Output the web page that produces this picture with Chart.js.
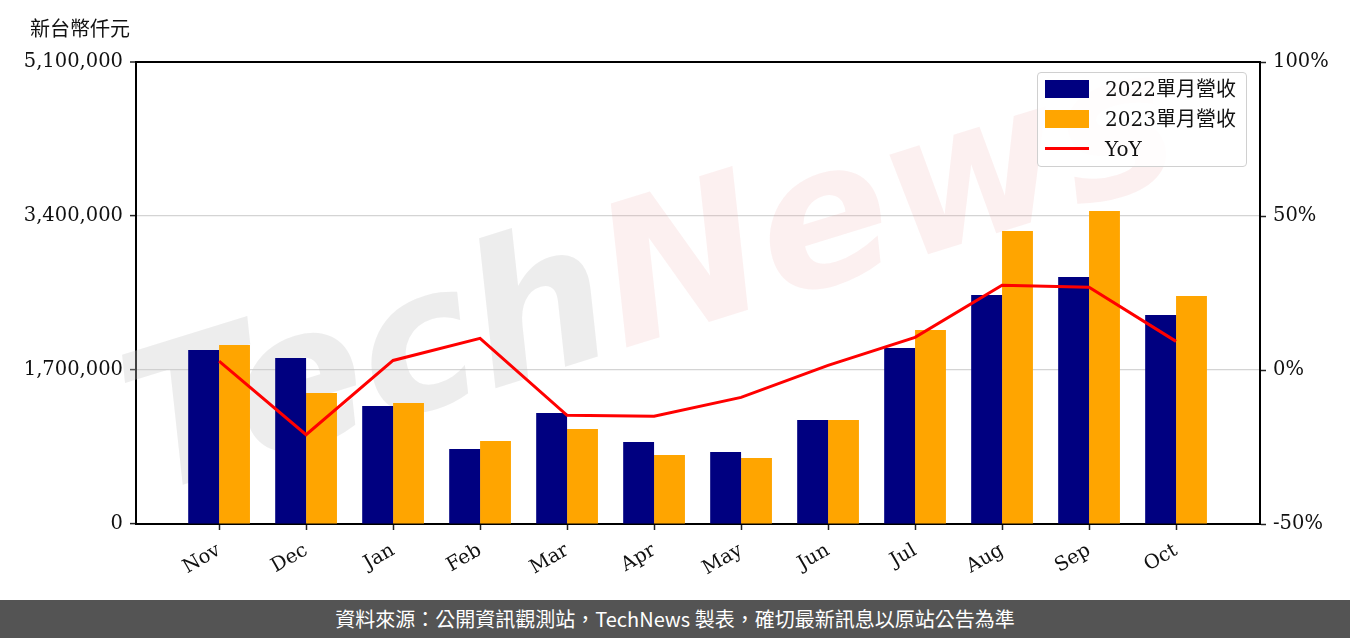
<!DOCTYPE html>
<html>
<head>
<meta charset="utf-8">
<script src="https://cdn.jsdelivr.net/npm/chart.js@4/dist/chart.umd.min.js"></script>
<style>
  html,body{margin:0;padding:0;background:#fff;}
  #wrap{position:relative;width:1350px;height:638px;overflow:hidden;}
  #c{position:absolute;left:0;top:0;}
  #unit{position:absolute;left:30px;top:13px;font:20px "Noto Sans CJK TC","DejaVu Sans",sans-serif;color:#111;}
  #legend{position:absolute;left:1037px;top:72px;width:210px;height:95px;border:1px solid #d0d0d0;border-radius:4px;background:rgba(255,255,255,0.85);box-sizing:border-box;}
  .row{position:absolute;left:0;height:26px;font:20px "DejaVu Serif","Noto Sans CJK TC",serif;color:#111;line-height:26px;}
  .sw{position:absolute;left:7px;width:44px;}
  .lt{position:absolute;left:67px;white-space:nowrap;}
  #footer{position:absolute;left:0;top:600px;width:1350px;height:38px;background:#545454;color:#fff;font:20px "Noto Sans CJK TC","Noto Sans",sans-serif;text-align:center;line-height:38px;}
</style>
</head>
<body>
<div id="wrap">
  <canvas id="c" width="1350" height="600"></canvas>
  <div id="unit">新台幣仟元</div>
  <div id="legend">
    <div class="row" style="top:3px;width:209px"><div class="sw" style="top:4px;height:18px;background:#000080"></div><div class="lt">2022單月營收</div></div>
    <div class="row" style="top:33px;width:209px"><div class="sw" style="top:4px;height:18px;background:#FFA500"></div><div class="lt">2023單月營收</div></div>
    <div class="row" style="top:63px;width:209px"><div class="sw" style="top:11px;height:3px;background:#FF0000"></div><div class="lt">YoY</div></div>
  </div>
  <div id="footer">資料來源：公開資訊觀測站，TechNews 製表，確切最新訊息以原站公告為準</div>
</div>
<script>
const categories = ["Nov","Dec","Jan","Feb","Mar","Apr","May","Jun","Jul","Aug","Sep","Oct"];
const revenue2022 = [1920000,1832000,1303000,828000,1225000,905000,795000,1148000,1943000,2528000,2727000,2307000];
const revenue2023 = [1976000,1446000,1336000,916000,1049000,762000,729000,1148000,2142000,3234000,3455000,2517000];
const yoy = [2.9,-21.0,3.1,10.3,-14.7,-15.0,-8.9,1.5,10.6,27.5,26.9,9.3];
const leftTicks = [0,1700000,3400000,5100000];
const rightTicks = [-50,0,50,100];

const serif = '"DejaVu Serif", "Liberation Serif", serif';

const watermark = {
  id:'watermark',
  beforeDatasetsDraw(chart){
    const ctx = chart.ctx;
    ctx.save();
    ctx.translate(150, 495);
    ctx.rotate(-0.30);
    ctx.font = 'italic bold 195px "DejaVu Sans", sans-serif';
    ctx.textBaseline = 'alphabetic';
    ctx.fillStyle = 'rgba(200,200,200,0.32)';
    ctx.fillText('Tech', 0, 0);
    const w = ctx.measureText('Tech').width;
    ctx.fillStyle = 'rgba(235,150,150,0.14)';
    ctx.fillText('News', w, 0);
    ctx.restore();
  }
};

const toXY = arr => arr.map((v,i)=>({x:i,y:v}));

new Chart(document.getElementById('c'), {
  type:'bar',
  data:{
    datasets:[
      {type:'line', label:'YoY', data:toXY(yoy), yAxisID:'y1', xAxisID:'x', borderColor:'#FF0000', borderWidth:3, pointRadius:0, tension:0, order:0},
      {label:'2022單月營收', data:toXY(revenue2022), backgroundColor:'#000080', yAxisID:'y', xAxisID:'x', order:1},
      {label:'2023單月營收', data:toXY(revenue2023), backgroundColor:'#FFA500', yAxisID:'y', xAxisID:'x', order:1}
    ]
  },
  options:{
    responsive:false,
    animation:false,
    datasets:{bar:{categoryPercentage:0.71, barPercentage:1.0}},
    layout:{padding:{top:62,left:0,right:0,bottom:0}},
    plugins:{legend:{display:false}, tooltip:{enabled:false}},
    scales:{
      x:{
        type:'linear', min:-0.955, max:11.965, offset:false,
        afterBuildTicks(s){ s.ticks = categories.map((c,i)=>({value:i})); },
        afterFit(s){ s.height = 76; },
        ticks:{callback:(v)=>categories[v], minRotation:30, maxRotation:30, color:'#111', font:{family:serif,size:19.5}, padding:9, autoSkip:false},
        grid:{offset:false, drawOnChartArea:false, tickLength:6, tickColor:'#222', tickWidth:1.5},
        border:{color:'#000', width:2}
      },
      y:{
        position:'left', min:0, max:5100000,
        afterBuildTicks(s){ s.ticks = leftTicks.map(v=>({value:v})); },
        afterFit(s){ s.width = 136; },
        ticks:{callback:v=>v.toLocaleString('en-US'), color:'#111', font:{family:serif,size:19.5}, padding:7},
        grid:{color:ctx=> (ctx.tick && ctx.tick.value===5100000) ? '#000' : (ctx.tick && ctx.tick.value===0 ? 'rgba(0,0,0,0)' : '#d4d4d4'),
              lineWidth:ctx=> (ctx.tick && ctx.tick.value===5100000) ? 2 : 1.2,
              tickLength:6, tickColor:'#222', tickWidth:1.5},
        border:{color:'#000', width:2}
      },
      y1:{
        position:'right', min:-50, max:100,
        afterBuildTicks(s){ s.ticks = rightTicks.map(v=>({value:v})); },
        afterFit(s){ s.width = 90; },
        ticks:{callback:v=>v+'%', color:'#111', font:{family:serif,size:19.5}, padding:7},
        grid:{drawOnChartArea:false, tickLength:6, tickColor:'#222', tickWidth:1.5},
        border:{color:'#000', width:2}
      }
    }
  },
  plugins:[watermark]
});
</script>
</body>
</html>
